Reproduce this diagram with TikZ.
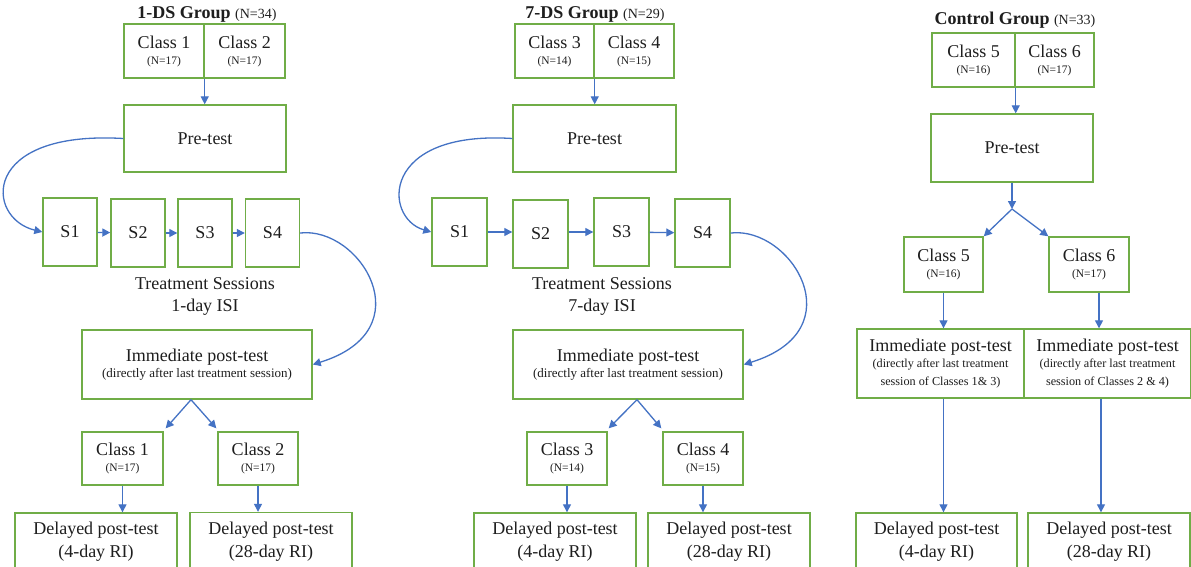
\documentclass[tikz,border=0pt]{standalone}
\usepackage{fontspec}
\setmainfont{Liberation Serif}
\usetikzlibrary{arrows.meta,calc}
\definecolor{boxgreen}{HTML}{70AD47}
\definecolor{arrblue}{HTML}{4472C4}
\definecolor{txt}{HTML}{1E1E1E}
\newcommand{\sm}{\fontsize{11.5}{12}\selectfont}
\newcommand{\md}{\fontsize{13}{14}\selectfont}
\newcommand{\mdc}{\fontsize{12.2}{14}\selectfont}
\tikzset{
  box/.style={draw=boxgreen, line width=1.4pt, text=txt, align=center, inner sep=0pt,
              font=\fontsize{18}{20}\selectfont},
  lbl/.style={text=txt, align=center, inner sep=0pt, font=\fontsize{18}{20}\selectfont},
  arr/.style={draw=arrblue, line width=1.3pt, -{Triangle[length=8pt,width=8pt]}},
  clsbox/.style={box, minimum height=54pt},
  sbox/.style={box, minimum width=54pt, minimum height=68pt},
  delbox/.style={box, minimum width=162pt, minimum height=58pt},
}
\begin{document}
\begin{tikzpicture}[x=1pt,y=-1pt]
\clip (0,0) rectangle (1191,566);
\fill[white] (0,0) rectangle (1191,566);

% ===================== 1-DS group =====================
\node[lbl] (t1) at (207,14) {\textbf{1-DS Group} {\fontsize{14}{16}\selectfont(N=34)}};
\node[clsbox, minimum width=80pt] (a1) at (164,51) {Class 1\\[-4pt]{\sm(N=17)}};
\node[clsbox, minimum width=81pt] (a2) at (244.5,51) {Class 2\\[-4pt]{\sm(N=17)}};
\node[box, minimum width=162pt, minimum height=67pt] (apre) at (205,138.5) {Pre-test};
\node[sbox] (as1) at (70,232) {S1};
\node[sbox] (as2) at (138,233) {S2};
\node[sbox] (as3) at (205,233) {S3};
\node[sbox] (as4) at (272.5,233) {S4};
\node[lbl] (atr) at (205,296) {Treatment Sessions\\[2pt]1-day ISI};
\node[box, minimum width=230pt, minimum height=69pt] (aimm) at (197,364.5)
  {Immediate post-test\\[-3.5pt]{\md(directly after last treatment session)}};
\node[clsbox, minimum width=81pt, minimum height=53pt] (ac1) at (122.5,458.5) {Class 1\\[-4pt]{\sm(N=17)}};
\node[clsbox, minimum width=80pt, minimum height=53pt] (ac2) at (258,458.5) {Class 2\\[-4pt]{\sm(N=17)}};
\node[delbox] (ad1) at (96,542) {Delayed post-test\\[3pt](4-day RI)};
\node[delbox] (ad2) at (271,541.5) {Delayed post-test\\[3pt](28-day RI)};

\draw[arr] (a1.south east) -- (a1.south east |- apre.north);
\draw[arr] (apre.west) .. controls (-20,130) and (-15,218) .. (as1.west);
\draw[arr] (as1) -- (as2);
\draw[arr] (as2) -- (as3);
\draw[arr] (as3) -- (as4);
\draw[arr] (as4.east) .. controls (360,226) and (425,330) .. (aimm.east);
\coordinate (asp) at ($(aimm.south)+(-6,0)$);
\draw[arr] (asp) -- ($(ac1.north east)+(2,-3)$);
\draw[arr] (asp) -- ($(ac2.north west)+(-1,-3)$);
\draw[arr] (ac1.south) -- (ac1.south |- ad1.north);
\draw[arr] (ac2.south) -- (ac2.south |- ad2.north);

% ===================== 7-DS group =====================
\node[lbl] (t2) at (595,14) {\textbf{7-DS Group} {\fontsize{14}{16}\selectfont(N=29)}};
\node[clsbox, minimum width=79pt] (b3) at (554.5,51) {Class 3\\[-4pt]{\sm(N=14)}};
\node[clsbox, minimum width=80pt] (b4) at (634,51) {Class 4\\[-4pt]{\sm(N=15)}};
\node[box, minimum width=163pt, minimum height=67pt] (bpre) at (594.5,138.5) {Pre-test};
\node[sbox, minimum width=55pt] (bs1) at (459.5,232) {S1};
\node[sbox, minimum width=55pt] (bs2) at (540.5,234) {S2};
\node[sbox, minimum width=55pt] (bs3) at (621.5,232) {S3};
\node[sbox, minimum width=55pt] (bs4) at (702.5,233) {S4};
\node[lbl] (btr) at (602,296) {Treatment Sessions\\[2pt]7-day ISI};
\node[box, minimum width=230pt, minimum height=69pt] (bimm) at (628,364.5)
  {Immediate post-test\\[-3.5pt]{\md(directly after last treatment session)}};
\node[clsbox, minimum width=80pt, minimum height=53pt] (bc3) at (567,458.5) {Class 3\\[-4pt]{\sm(N=14)}};
\node[clsbox, minimum width=80pt, minimum height=53pt] (bc4) at (703,458.5) {Class 4\\[-4pt]{\sm(N=15)}};
\node[delbox] (bd3) at (555,542) {Delayed post-test\\[3pt](4-day RI)};
\node[delbox] (bd4) at (729,542) {Delayed post-test\\[3pt](28-day RI)};

\draw[arr] (b3.south east) -- (b3.south east |- bpre.north);
\draw[arr] (bpre.west) .. controls (380,130) and (383,218) .. (bs1.west);
\draw[arr] (bs1) -- (bs2.west |- bs1);
\draw[arr] (bs2.east |- bs3) -- (bs3);
\draw[arr] (bs3) -- (bs4);
\draw[arr] (bs4.east) .. controls (791,226) and (856,330) .. (bimm.east);
\coordinate (bsp) at ($(bimm.south)+(9,0)$);
\draw[arr] (bsp) -- ($(bc3.north east)+(1,-3)$);
\draw[arr] (bsp) -- ($(bc4.north west)+(-1,-3)$);
\draw[arr] (bc3.south) -- (bc3.south |- bd3.north);
\draw[arr] (bc4.south) -- (bc4.south |- bd4.north);

% ===================== Control group =====================
\node[lbl] (t3) at (1015,20) {\textbf{Control Group} {\fontsize{14}{16}\selectfont(N=33)}};
\node[clsbox, minimum width=83pt] (c5) at (973.5,60) {Class 5\\[-4pt]{\sm(N=16)}};
\node[clsbox, minimum width=79pt] (c6) at (1054.5,60) {Class 6\\[-4pt]{\sm(N=17)}};
\node[box, minimum width=162pt, minimum height=68pt] (cpre) at (1012,148) {Pre-test};
\coordinate (csp) at (1012,209);
\node[clsbox, minimum width=79pt, minimum height=55pt] (cc5) at (943.5,264.5) {Class 5\\[-4pt]{\sm(N=16)}};
\node[clsbox, minimum width=80pt, minimum height=55pt] (cc6) at (1089,264.5) {Class 6\\[-4pt]{\sm(N=17)}};
\node[box, minimum width=167pt, minimum height=69pt] (ci5) at (940.5,363.5)
  {Immediate post-test\\[-4pt]{\mdc(directly after last treatment}\\[-2pt]{\mdc session of Classes 1\& 3)}};
\node[box, minimum width=167pt, minimum height=69pt] (ci6) at (1107.5,363.5)
  {Immediate post-test\\[-4pt]{\mdc(directly after last treatment}\\[-2pt]{\mdc session of Classes 2 \& 4)}};
\node[delbox, minimum width=161pt] (cd5) at (936.5,542) {Delayed post-test\\[3pt](4-day RI)};
\node[delbox] (cd6) at (1109,542) {Delayed post-test\\[3pt](28-day RI)};

\draw[arr] (c5.south east) -- (c5.south east |- cpre.north);
\draw[arr] (cpre.south) -- (csp);
\draw[arr] (csp) -- (cc5.north east);
\draw[arr] (csp) -- (cc6.north west);
\draw[arr] (cc5.south) -- (cc5.south |- ci5.north);
\coordinate (c6a) at ($(cc6.south)+(10,0)$);
\draw[arr] (c6a) -- (c6a |- ci6.north);
\draw[arr] (cc5.south |- ci5.south) -- (cc5.south |- cd5.north);
\coordinate (c6b) at ($(ci6.south)+(-6.5,0)$);
\draw[arr] (c6b) -- (c6b |- cd6.north);
\end{tikzpicture}
\end{document}
